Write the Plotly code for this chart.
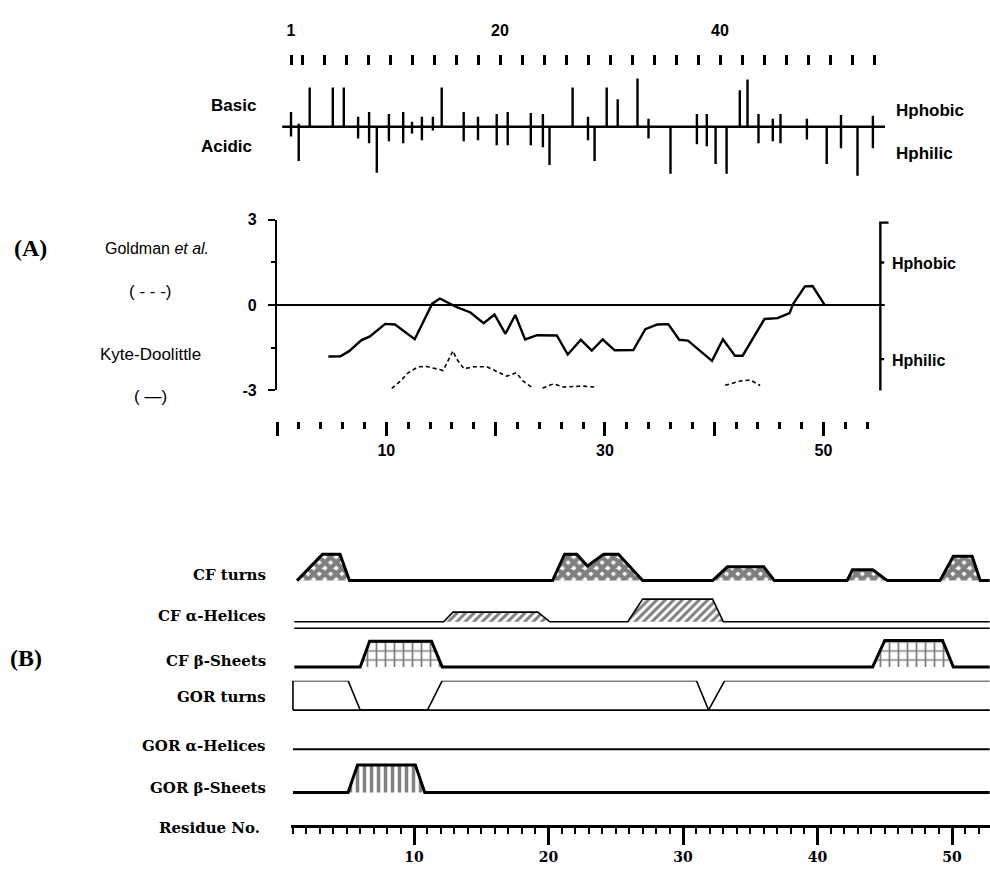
import plotly.graph_objects as go

W, H = 990, 872

# ---------------- data: top stick plot (charge / hydropathy per residue) ----------------
STICK_RES = [1.0, 1.7, 2.7, 4.8, 5.8, 7.1, 8.1, 8.8, 9.9, 11.2, 12.0, 12.9, 13.9, 14.7,
             16.7, 18.0, 19.7, 20.7, 22.8, 23.9, 24.5, 26.6, 28.0, 28.6, 29.7, 30.7,
             32.5, 33.5, 35.5, 37.9, 38.8, 39.6, 40.6, 41.8, 42.5, 43.5, 44.8, 45.5,
             47.9, 49.7, 51.0, 52.5, 53.9]
STICK_UP = [1.5, 0.3, 4.0, 4.0, 4.0, 1.0, 1.5, 0.0, 1.3, 1.5, 0.5, 1.0, 1.0, 4.0,
            1.5, 1.0, 1.3, 1.5, 1.4, 1.3, 0.0, 4.0, 1.0, 0.0, 4.0, 2.8,
            4.9, 0.8, 0.0, 1.3, 1.3, 0.0, 0.0, 3.7, 4.8, 1.3, 0.8, 1.3,
            0.8, 0.0, 1.2, 0.0, 1.1]
STICK_DOWN = [1.0, 3.5, 0.0, 0.0, 0.0, 1.2, 1.7, 4.7, 1.5, 1.7, 0.7, 1.4, 0.4, 0.0,
              1.5, 1.4, 1.9, 1.9, 1.9, 2.1, 3.9, 0.0, 1.4, 3.5, 0.0, 0.0,
              0.0, 1.2, 4.8, 1.8, 2.0, 3.8, 4.8, 0.0, 0.0, 1.7, 1.5, 1.7,
              1.3, 3.8, 2.2, 5.0, 2.2]
TOP_TICK_VALS = [1, 20, 40]
TOP_TICK_TEXT = ["1", "20", "40"]
TOP_MINOR_TICKS = [v for v in range(2, 55, 2) if v not in (20, 40)]
TOP_BASELINE = [0.2, 55.0]

# ---------------- data: panel A hydropathy profiles ----------------
KD_RES = [4.7, 5.8, 6.6, 7.7, 8.5, 9.9, 10.8, 12.6, 14.2, 14.9, 16.4, 17.7, 18.9, 19.9,
          20.9, 21.8, 22.7, 23.8, 25.6, 26.6, 27.8, 28.8, 29.8, 30.9, 32.6, 33.7,
          34.8, 35.8, 36.8, 37.6, 39.8, 40.8, 41.9, 42.6, 44.6, 45.8, 46.9, 47.2,
          48.3, 49.0, 50.1]
KD_VAL = [-1.81, -1.80, -1.62, -1.24, -1.10, -0.66, -0.68, -1.20, 0.05, 0.23, -0.06,
          -0.26, -0.64, -0.33, -1.01, -0.35, -1.21, -1.06, -1.07, -1.74, -1.22, -1.60,
          -1.21, -1.59, -1.58, -0.85, -0.68, -0.67, -1.22, -1.25, -1.96, -1.20, -1.78,
          -1.78, -0.49, -0.46, -0.28, 0.03, 0.66, 0.67, 0.01]
GOLD_RES = [10.5, 11.3, 12.0, 12.9, 13.7, 14.6, 15.2, 16.1, 16.4, 17.1, 18.0, 19.2,
            20.4, 21.0, 21.9, 22.5, 23.3, None, 24.3, 25.3, 26.2, 28.0, 29.3, None,
            41.0, 42.4, 43.3, 44.2]
GOLD_VAL = [-2.93, -2.67, -2.38, -2.17, -2.16, -2.25, -2.30, -1.61, -1.87, -2.24, -2.17,
            -2.17, -2.39, -2.50, -2.38, -2.67, -2.89, None, -2.92, -2.77, -2.88, -2.85,
            -2.89, None, -2.82, -2.67, -2.63, -2.83]
A_TICK_VALS = [0, 10, 20, 30, 40, 50]
A_TICK_TEXT = ["", "10", "", "30", "", "50"]
A_MINOR_TICKS = [v for v in range(2, 55, 2) if v % 10 != 0]
A_Y_TICKS = [-3, 0, 3]
A_Y_TEXT = ["-3", "0", "3"]
A_Y_MINOR = [-1.5, 1.5]
ZERO_LINE = [0.0, 55.6]

# ---------------- data: panel B secondary-structure profiles ----------------
CF_TURN_RES = [1.3, 3.2, 4.5, 5.2, 20.3, 21.2, 22.1, 22.9, 24.1, 25.2, 27.0, 32.2, 33.3,
               36.0, 36.8, 42.2, 42.6, 44.1, 45.2, 49.1, 50.1, 51.5, 52.1, 52.8]
CF_TURN_H = [0, 0.9, 0.9, 0, 0, 0.9, 0.9, 0.5, 0.9, 0.9, 0, 0, 0.47,
             0.47, 0, 0, 0.37, 0.37, 0, 0, 0.83, 0.83, 0, 0]
CF_HELIX_RES = [1.1, 12.2, 12.9, 19.2, 20.1, 25.9, 27.0, 32.2, 33.0, 52.8]
CF_HELIX_H = [0, 0, 0.33, 0.33, 0, 0, 0.77, 0.77, 0, 0]
CF_SHEET_RES = [1.1, 6.0, 6.7, 11.3, 12.1, 44.1, 45.0, 49.3, 50.1, 52.8]
CF_SHEET_H = [0, 0, 0.87, 0.87, 0, 0, 0.9, 0.9, 0, 0]
GOR_TURN_RES = [1.0, 1.0, 5.1, 6.0, 11.0, 12.1, 31.0, 31.9, 33.1, 52.8]
GOR_TURN_H = [0, 1.0, 1.0, 0, 0, 1.0, 1.0, 0, 1.0, 1.0]
GOR_HELIX_RES = [1.0, 52.8]
GOR_HELIX_H = [0, 0]
GOR_SHEET_RES = [1.0, 5.1, 5.8, 10.1, 10.8, 52.8]
GOR_SHEET_H = [0, 0, 0.93, 0.93, 0, 0]
B_TICK_VALS = [10, 20, 30, 40, 50]
B_TICK_TEXT = ["10", "20", "30", "40", "50"]
B_MINOR_TICKS = [v for v in range(1, 53) if v % 10 != 0]
ROW_LABELS = ["CF turns", "CF α-Helices", "CF β-Sheets", "GOR turns",
              "GOR α-Helices", "GOR β-Sheets"]

# ---------------- layout helpers (pixel -> paper) ----------------
def px(x):
    return x / W


def py(y):
    return 1 - y / H


SANS = "Liberation Sans"
SERIF = "Liberation Serif"
WIDE_SERIF = "DejaVu Serif"
BLACK = "#000000"

fig = go.Figure()

# ---- top stick plot ----
sx, sy = [], []
for r, u, d in zip(STICK_RES, STICK_UP, STICK_DOWN):
    sx += [r, r, None]
    sy += [-d, u, None]
fig.add_trace(go.Scatter(x=TOP_BASELINE, y=[0, 0], mode="lines",
                         line=dict(color=BLACK, width=2.5), xaxis="x", yaxis="y"))
fig.add_trace(go.Scatter(x=sx, y=sy, mode="lines",
                         line=dict(color=BLACK, width=2.4), xaxis="x", yaxis="y"))

# ---- panel A ----
fig.add_trace(go.Scatter(x=ZERO_LINE, y=[0, 0], mode="lines",
                         line=dict(color=BLACK, width=2), xaxis="x2", yaxis="y2"))
fig.add_trace(go.Scatter(x=KD_RES, y=KD_VAL, mode="lines",
                         line=dict(color=BLACK, width=2.4), xaxis="x2", yaxis="y2"))
fig.add_trace(go.Scatter(x=GOLD_RES, y=GOLD_VAL, mode="lines", connectgaps=False,
                         line=dict(color=BLACK, width=1.6, dash="4px,3px"),
                         xaxis="x2", yaxis="y2"))

# ---- panel B rows ----
rows = [
    (CF_TURN_RES, CF_TURN_H, dict(shape="x", size=8, solidity=0.8), 3.0),
    (CF_HELIX_RES, CF_HELIX_H, dict(shape="/", size=6, solidity=0.5), 1.6),
    (CF_SHEET_RES, CF_SHEET_H, dict(shape="+", size=9, solidity=0.35), 3.0),
    (GOR_TURN_RES, GOR_TURN_H, None, 1.6),
    (GOR_HELIX_RES, GOR_HELIX_H, None, 1.8),
    (GOR_SHEET_RES, GOR_SHEET_H, dict(shape="|", size=7, solidity=0.5), 3.0),
]
for i, (rx, rh, pat, lw) in enumerate(rows):
    ya = "y%d" % (i + 3)
    if pat is not None:
        p = dict(pat)
        p.update(fgcolor=BLACK, bgcolor="white")
        fig.add_trace(go.Scatter(x=rx, y=rh, mode="lines", fill="tozeroy",
                                 fillpattern=p, fillcolor="white",
                                 line=dict(color=BLACK, width=lw),
                                 xaxis="x3", yaxis=ya))
    else:
        fig.add_trace(go.Scatter(x=rx, y=rh, mode="lines",
                                 line=dict(color=BLACK, width=lw),
                                 xaxis="x3", yaxis=ya))
# extra base lines: double line under CF helices, baseline under GOR turns
fig.add_trace(go.Scatter(x=[CF_HELIX_RES[0], CF_HELIX_RES[-1]], y=[-0.22, -0.22],
                         mode="lines", line=dict(color=BLACK, width=1.6),
                         xaxis="x3", yaxis="y4"))
fig.add_trace(go.Scatter(x=[GOR_TURN_RES[0], GOR_TURN_RES[-1]], y=[0, 0],
                         mode="lines", line=dict(color=BLACK, width=1.8),
                         xaxis="x3", yaxis="y6"))

# ---------------- axes ----------------
hidden = dict(visible=False, showgrid=False, zeroline=False, fixedrange=True)

# top stick axes: residue r -> 280 + 11 r px ; baseline at TOP_BASE px
TOP_BASE = 121
top_l, top_r = 280, 885
top_top, top_bot = 59, 187
layout = dict(
    width=W, height=H, margin=dict(l=0, r=0, t=0, b=0),
    paper_bgcolor="white", plot_bgcolor="white", showlegend=False,
    xaxis=dict(domain=[px(top_l), px(top_r)], range=[0, (top_r - 280) / 11],
               anchor="y", side="top", showgrid=False, zeroline=False, showline=False,
               tickmode="array", tickvals=TOP_TICK_VALS, ticktext=TOP_TICK_TEXT,
               ticks="outside", ticklen=10, tickwidth=3, tickcolor=BLACK,
               ticklabelstandoff=12,
               tickfont=dict(family=SANS, size=16, color=BLACK, weight="bold"),
               minor=dict(tickmode="array", tickvals=TOP_MINOR_TICKS, ticks="outside",
                          ticklen=10, tickwidth=3, tickcolor=BLACK, showgrid=False)),
    yaxis=dict(domain=[py(top_bot), py(top_top)],
               range=[-(top_bot - TOP_BASE) / 10, (TOP_BASE - top_top) / 10],
               anchor="x", **hidden),
)

# panel A: residue r -> 277 + 10.93 r px ; value v -> 303 - 29 v px
a_l, a_r = 277, 890
layout["xaxis2"] = dict(domain=[px(a_l), px(a_r)], range=[0, (a_r - a_l) / 10.93],
                        anchor="free", position=py(421), side="bottom",
                        showgrid=False, zeroline=False, showline=False,
                        tickmode="array", tickvals=A_TICK_VALS, ticktext=A_TICK_TEXT,
                        ticks="outside", ticklen=14, tickwidth=2.5, tickcolor=BLACK,
                        ticklabelstandoff=1,
                        tickfont=dict(family=SANS, size=16, color=BLACK, weight="bold"),
                        minor=dict(tickmode="array", tickvals=A_MINOR_TICKS,
                                   ticks="outside", ticklen=7, tickwidth=2.5,
                                   tickcolor=BLACK, showgrid=False))
layout["yaxis2"] = dict(domain=[py(390), py(216)], range=[-3, 3], anchor="x2",
                        showgrid=False, zeroline=False, showline=True,
                        linecolor=BLACK, linewidth=2.2,
                        tickmode="array", tickvals=A_Y_TICKS, ticktext=A_Y_TEXT,
                        ticks="outside", ticklen=7, tickwidth=2.2, tickcolor=BLACK,
                        ticklabelstandoff=8,
                        tickfont=dict(family=SANS, size=16, color=BLACK, weight="bold"),
                        minor=dict(tickmode="array", tickvals=A_Y_MINOR, ticks="outside",
                                   ticklen=4, tickwidth=2, tickcolor=BLACK,
                                   showgrid=False))

# panel B: residue r -> 279.5 + 13.45 r px
b_l, b_r = 291, 990
layout["xaxis3"] = dict(domain=[px(b_l), px(b_r)],
                        range=[(b_l - 279.5) / 13.45, (b_r - 279.5) / 13.45],
                        anchor="free", position=py(834), side="bottom",
                        showgrid=False, zeroline=False, showline=True,
                        linecolor=BLACK, linewidth=2.5,
                        tickmode="array", tickvals=B_TICK_VALS, ticktext=B_TICK_TEXT,
                        ticks="outside", ticklen=18, tickwidth=2.5, tickcolor=BLACK,
                        ticklabelstandoff=0,
                        tickfont=dict(family=WIDE_SERIF, size=14, color=BLACK,
                                      weight="bold"),
                        minor=dict(tickmode="array", tickvals=B_MINOR_TICKS,
                                   ticks="outside", ticklen=7, tickwidth=2,
                                   tickcolor=BLACK, showgrid=False))
ROW_BASE_PX = [584, 626, 672, 716, 756, 800]
ROW_UNIT_PX = 30
for i, base in enumerate(ROW_BASE_PX):
    layout["yaxis%d" % (i + 3)] = dict(domain=[py(base + 10), py(base - ROW_UNIT_PX)],
                                       range=[-10 / ROW_UNIT_PX, 1], anchor="x3",
                                       **hidden)

fig.update_layout(**layout)

# ---------------- shapes: right bracket of panel A ----------------
bx = 55.2
stub = 0.75
bracket = (f"M {bx + stub},2.9 L {bx},2.9 L {bx},-3.2 L {bx + stub},-3.2 "
           f"M {bx},1.5 L {bx + 0.35},1.5 M {bx},-1.9 L {bx + 0.35},-1.9")
fig.add_shape(type="path", path=bracket, xref="x2", yref="y2",
              line=dict(color=BLACK, width=2.4))

# ---------------- annotations ----------------
ann = []


def text(x, y, s, size=16, family=SANS, anchor="center", bold=False):
    ann.append(dict(x=px(x), y=py(y), xref="paper", yref="paper", text=s,
                    showarrow=False, xanchor=anchor, yanchor="middle",
                    font=dict(family=family, size=size, color=BLACK,
                              weight="bold" if bold else "normal")))


# top labels
text(258, 99, "Basic", 17, anchor="right", bold=True)
text(254, 141, "Acidic", 17, anchor="right", bold=True)
text(894, 105, "Hphobic", 17, anchor="left", bold=True)
text(894, 148, "Hphilic", 17, anchor="left", bold=True)

# panel A labels
text(30, 245, "(A)", 24, family=SERIF, bold=True)
text(157, 245, "Goldman <i>et al.</i>", 16)
text(150, 289, "( - - -)", 17)
text(150, 353, "Kyte-Doolittle", 17)
text(150, 396, "( —)", 17)
text(890, 261, "Hphobic", 16, anchor="left", bold=True)
text(890, 359, "Hphilic", 16, anchor="left", bold=True)

# panel B labels
ROW_LABEL_PX = [578, 620, 666, 703, 753, 796]
for lab, yy in zip(ROW_LABELS, ROW_LABEL_PX):
    text(268, yy, lab, 15, family=WIDE_SERIF, anchor="right", bold=True)
text(262, 836, "Residue No.", 15, family=WIDE_SERIF, anchor="right", bold=True)
text(26, 663, "(B)", 24, family=SERIF, bold=True)

fig.update_layout(annotations=ann)

fig.write_html("out.html")
